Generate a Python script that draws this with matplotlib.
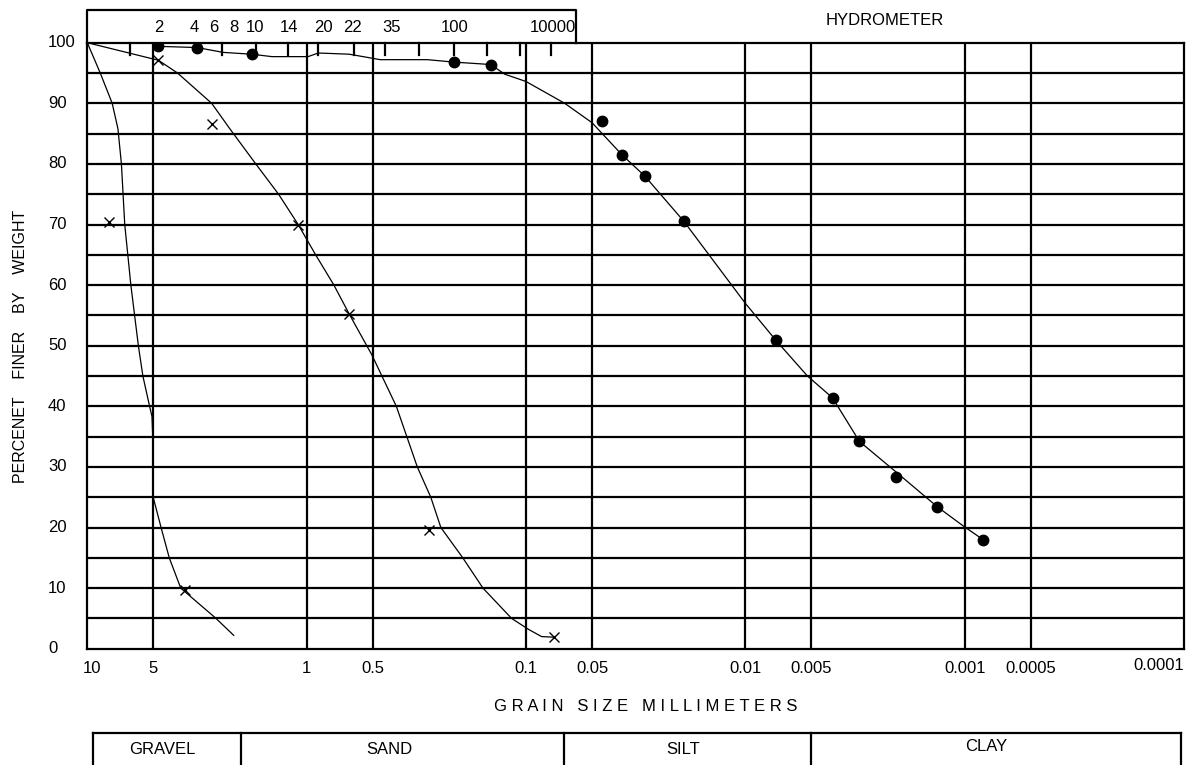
import matplotlib
matplotlib.use("Agg")
import matplotlib.pyplot as plt
from matplotlib.transforms import blended_transform_factory, offset_copy
from matplotlib.ticker import NullLocator

# ---------------- data ----------------
# grain size (mm) / percent finer, series A (gravelly sample, x markers)
a_curve_mm = [10, 8.73, 7.70, 7.25, 6.99, 6.75, 6.33, 5.85, 5.58, 5.20, 5.07, 5.0, 5.0, 4.61, 4.23, 3.75, 2.59, 2.15]
a_curve_pct = [100, 95, 90, 85.8, 80, 70, 60, 50, 45, 40, 38.3, 32.3, 24.9, 20, 15, 10, 5, 2.2]
a_pts_mm = [7.99, 3.60]
a_pts_pct = [70.4, 9.7]

# series B (sandy sample, x markers)
b_curve_mm = [10, 4.74, 3.88, 2.71, 2.24, 1.706, 1.343, 1.093, 0.91, 0.751, 0.639, 0.5045, 0.390,
              0.313, 0.2717, 0.2444, 0.1942, 0.1571, 0.1163, 0.0975, 0.0849, 0.0743]
b_curve_pct = [100, 97.1, 95, 90, 85.8, 80, 75, 70, 65, 60, 55.2, 48.5, 40,
               30, 25, 20, 15, 10, 5, 3.2, 2.0, 1.9]
b_pts_mm = [4.74, 2.69, 1.093, 0.639, 0.2767, 0.0743]
b_pts_pct = [97.1, 86.6, 70, 55.2, 19.6, 1.9]

# series C (fine sample with hydrometer, filled circles)
c_curve_mm = [4.74, 3.16, 2.40, 1.778, 1.439, 0.986, 0.884, 0.639, 0.496, 0.462, 0.2814, 0.2137,
              0.1449, 0.1249, 0.1, 0.0666, 0.05, 0.0365, 0.02874, 0.01904, 0.01, 0.00726, 0.00521,
              0.004003, 0.003018, 0.002061, 0.001331, 0.00101, 0.000824]
c_curve_pct = [99.4, 99.2, 98.4, 98.1, 97.7, 97.7, 98.3, 98.1, 97.4, 97.2, 97.2, 96.8,
               96.4, 94.8, 93.6, 90, 86.8, 81.5, 78.0, 70.5, 57.0, 50.9, 45,
               41.4, 34.2, 29.2, 23.4, 20.2, 18.0]
c_pts_mm = [4.74, 3.16, 1.778, 0.2137, 0.1449, 0.04524, 0.0365, 0.02874, 0.01904, 0.00726,
            0.004003, 0.003018, 0.002061, 0.001331, 0.000824]
c_pts_pct = [99.4, 99.2, 98.1, 96.8, 96.4, 87.1, 81.5, 78.0, 70.5, 50.9,
             41.4, 34.2, 28.4, 23.4, 18.0]

# axis ticks / labels
x_grid = [5, 1, 0.5, 0.1, 0.05, 0.01, 0.005, 0.001, 0.0005]
x_tick_vals = [10, 5, 1, 0.5, 0.1, 0.05, 0.01, 0.005, 0.001, 0.0005, 0.0001]
x_tick_labels = ["10", "5", "1", "0.5", "0.1", "0.05", "0.01", "0.005", "0.001", "0.0005", "0.0001"]
y_tick_vals = [0, 10, 20, 30, 40, 50, 60, 70, 80, 90, 100]

# sieve numbers (top scale)
sieve_labels = ["2", "4", "6", "8", "10", "14", "20", "22", "35", "100", "10000"]
sieve_label_mm = [4.74, 3.27, 2.665, 2.15, 1.719, 1.203, 0.838, 0.616, 0.408, 0.2108, 0.0751]
sieve_tick_mm = [6.38, 2.42, 1.706, 1.22, 0.884, 0.611, 0.441, 0.3076, 0.2137, 0.150, 0.1066, 0.0765]

# soil classes (bottom band)
class_names = ["GRAVEL", "SAND", "SILT", "CLAY"]
class_bounds_mm = [9.41, 2.0, 0.0668, 0.005, 0.000103]

# ---------------- layout ----------------
W, H = 1200, 765
L, R, T, B = 87.3, 1184, 42.7, 648.7
AXH = B - T
FS = 12
plt.rcParams['font.family'] = ['Liberation Sans', 'DejaVu Sans']

fig = plt.figure(figsize=(12, 7.65), dpi=100)
fig.patch.set_facecolor('white')
ax = fig.add_axes([L / W, 1 - B / H, (R - L) / W, AXH / H])
ax.set_xscale('log')
ax.set_xlim(10, 1e-4)
ax.set_ylim(0, 100)
for axis in (ax.xaxis, ax.yaxis):
    axis.set_major_locator(NullLocator())
    axis.set_minor_locator(NullLocator())
for s in ax.spines.values():
    s.set_linewidth(1.6)
    s.set_color('black')

GLW = 1.6
for g in x_grid:
    ax.axvline(g, color='black', lw=GLW, zorder=1)
for yv in range(5, 100, 5):
    ax.axhline(yv, color='black', lw=GLW, zorder=1)

# curves
ax.plot(a_curve_mm, a_curve_pct, color='black', lw=0.9, zorder=3)
ax.plot(b_curve_mm, b_curve_pct, color='black', lw=0.9, zorder=3)
ax.plot(c_curve_mm, c_curve_pct, color='black', lw=0.9, zorder=3)
ax.plot(a_pts_mm, a_pts_pct, ls='none', marker='x', ms=6.5, mew=1.0, color='black', zorder=4)
ax.plot(b_pts_mm, b_pts_pct, ls='none', marker='x', ms=6.5, mew=1.0, color='black', zorder=4)
ax.plot(c_pts_mm, c_pts_pct, ls='none', marker='o', ms=7.5, color='black', zorder=4)

# tick labels
tx = blended_transform_factory(ax.transData, ax.transAxes)
ty = blended_transform_factory(ax.transAxes, ax.transData)
for v, lab in zip(x_tick_vals, x_tick_labels):
    if lab == "0.0001":
        ax.text(v, -0.027, lab, transform=tx, ha='right', va='center', fontsize=FS)
    elif lab == "10":
        ax.text(v, -0.032, lab, transform=offset_copy(tx, fig=fig, x=5, y=0, units='dots'),
                ha='center', va='center', fontsize=FS)
    else:
        ax.text(v, -0.032, lab, transform=tx, ha='center', va='center', fontsize=FS)
for v in y_tick_vals:
    ax.text(-(L - 48) / (R - L), v, str(v), transform=ty, ha='left', va='center', fontsize=FS)

# axis titles
ax.text(0.509, -(706.7 - B) / AXH, "G R A I N   S I Z E   M I L L I M E T E R S",
        transform=ax.transAxes, ha='center', va='center', fontsize=FS)
fig.text(21 / W, 1 - 346 / H, "PERCENET    FINER    BY    WEIGHT", rotation=90,
         ha='center', va='center', fontsize=11.5)

# sieve scale box
box_top = 1 + (T - 10) / AXH
box_right_mm = 0.0589
ax.plot([10, 10, box_right_mm, box_right_mm], [1, box_top, box_top, 1], transform=tx,
        color='black', lw=GLW, clip_on=False)
for m, lab in zip(sieve_label_mm, sieve_labels):
    ax.text(m, 1 + (T - 27.5) / AXH, lab, transform=tx, ha='center', va='center', fontsize=FS)
tick_len = 12 / AXH
for m in sieve_tick_mm:
    ax.plot([m, m], [1, 1 - tick_len], transform=tx, color='black', lw=GLW, clip_on=False, zorder=2)
ax.text(0.00231, 1 + (T - 20.3) / AXH, "HYDROMETER", transform=tx, ha='center', va='center', fontsize=FS)

# classification band
tf = blended_transform_factory(ax.transData, fig.transFigure)
band_top = 1 - 733.3 / H
ax.plot([class_bounds_mm[0], class_bounds_mm[-1]], [band_top, band_top], transform=tf,
        color='black', lw=GLW, clip_on=False)
for m in class_bounds_mm:
    ax.plot([m, m], [band_top, -0.05], transform=tf, color='black', lw=GLW, clip_on=False)
class_label_mm = [4.53, 0.42, 0.0193, 0.000794]
class_label_y = [750, 750, 750, 746.7]
for m, yy, name in zip(class_label_mm, class_label_y, class_names):
    ax.text(m, 1 - yy / H, name, transform=tf, ha='center', va='center', fontsize=FS)

fig.savefig("out.png", dpi=100, facecolor='white')
